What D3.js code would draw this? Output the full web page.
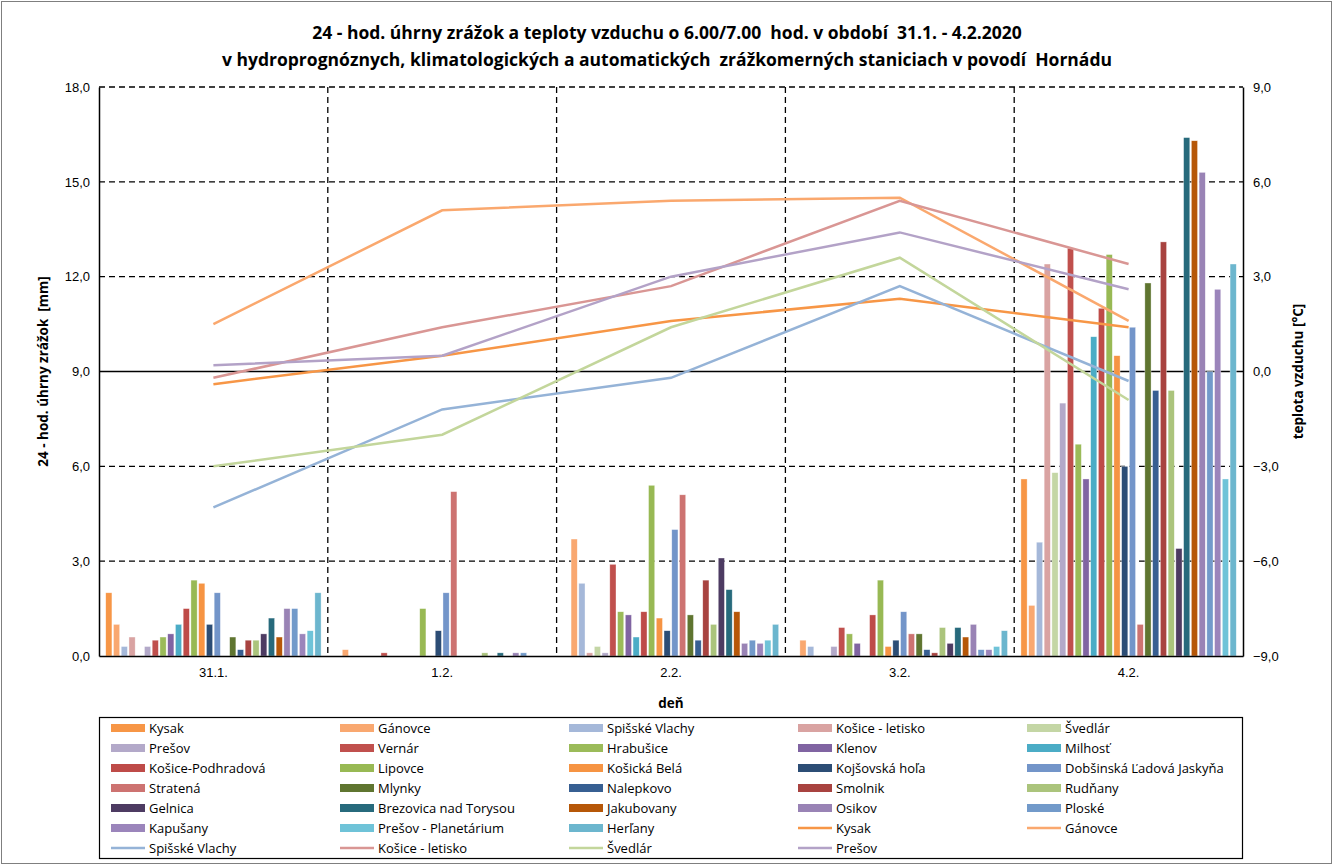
<!DOCTYPE html>
<html>
<head>
<meta charset="utf-8">
<script src="https://cdn.jsdelivr.net/npm/d3@7"></script>
<style>
  body { margin: 0; background: #fff; }
  svg { font-family: "Open Sans", Lato, sans-serif; }
  .tick text { font-size: 13px; fill: #000; }
</style>
</head>
<body>
<svg width="1333" height="865"></svg>
<script>
// days on the x axis
var days = ['31.1.', '1.2.', '2.2.', '3.2.', '4.2.'];

// rain gauges (bars), same order as the legend
var rainStations = ['Kysak', 'Gánovce', 'Spišské Vlachy', 'Košice - letisko', 'Švedlár',
  'Prešov', 'Vernár', 'Hrabušice', 'Klenov', 'Milhosť',
  'Košice-Podhradová', 'Lipovce', 'Košická Belá', 'Kojšovská hoľa', 'Dobšinská Ľadová Jaskyňa',
  'Stratená', 'Mlynky', 'Nalepkovo', 'Smolnik', 'Rudňany',
  'Gelnica', 'Brezovica nad Torysou', 'Jakubovany', 'Osikov', 'Ploské',
  'Kapušany', 'Prešov - Planetárium', 'Herľany'];
var rainColors = ['#F79646', '#F9A870', '#A5B8D9', '#D9A3A2', '#C4D6A5',
  '#B3A9C9', '#C0504D', '#9BBB59', '#8064A2', '#4BACC6',
  '#BE4B48', '#98B954', '#F69443', '#2C4D75', '#7395C9',
  '#CD7371', '#5F7530', '#375F92', '#A84340', '#ABC47C',
  '#4D3B62', '#276A7C', '#B65708', '#9983B5', '#729ACA',
  '#9B85BB', '#6FC3D8', '#6CB6CE'];

// 24-h precipitation [mm] per day, one value per station
var rain311 = [2.0, 1.0, 0.3, 0.6, 0, 0.3, 0.5, 0.6, 0.7, 1.0, 1.5, 2.4, 2.3, 1.0, 2.0, 0, 0.6, 0.2, 0.5, 0.5, 0.7, 1.2, 0.6, 1.5, 1.5, 0.7, 0.8, 2.0];
var rain12  = [0, 0.2, 0, 0, 0, 0, 0.1, 0, 0, 0, 0, 1.5, 0, 0.8, 2.0, 5.2, 0, 0, 0, 0.1, 0, 0.1, 0, 0.1, 0.1, 0, 0, 0];
var rain22  = [0, 3.7, 2.3, 0.1, 0.3, 0.1, 2.9, 1.4, 1.3, 0.6, 1.4, 5.4, 1.2, 0.8, 4.0, 5.1, 1.3, 0.5, 2.4, 1.0, 3.1, 2.1, 1.4, 0.4, 0.5, 0.4, 0.5, 1.0];
var rain32  = [0, 0.5, 0.3, 0, 0, 0.3, 0.9, 0.7, 0.4, 0, 1.3, 2.4, 0.3, 0.5, 1.4, 0.7, 0.7, 0.2, 0.1, 0.9, 0.4, 0.9, 0.6, 1.0, 0.2, 0.2, 0.3, 0.8];
var rain42  = [5.6, 1.6, 3.6, 12.4, 5.8, 8.0, 12.9, 6.7, 5.6, 10.1, 11.0, 12.7, 9.5, 6.0, 10.4, 1.0, 11.8, 8.4, 13.1, 8.4, 3.4, 16.4, 16.3, 15.3, 9.0, 11.6, 5.6, 12.4];
var rainByDay = [rain311, rain12, rain22, rain32, rain42];

// air temperature at 6/7 h [°C]
var tempStations = ['Kysak', 'Gánovce', 'Spišské Vlachy', 'Košice - letisko', 'Švedlár', 'Prešov'];
var tempColors = ['#F79646', '#FAA86E', '#95B3D7', '#D99694', '#C3D69B', '#B3A2C7'];
var tempKysak    = [-0.4, 0.5, 1.6, 2.3, 1.4];
var tempGanovce  = [1.5, 5.1, 5.4, 5.5, 1.6];
var tempSpisske  = [-4.3, -1.2, -0.2, 2.7, -0.3];
var tempLetisko  = [-0.2, 1.4, 2.7, 5.4, 3.4];
var tempSvedlar  = [-3.0, -2.0, 1.4, 3.6, -0.9];
var tempPresov   = [0.2, 0.5, 3.0, 4.4, 2.6];
var tempSeries = [tempKysak, tempGanovce, tempSpisske, tempLetisko, tempSvedlar, tempPresov];

// tick labels
var rainTicks = [0, 3, 6, 9, 12, 15, 18];
var tempTicks = [-9, -6, -3, 0, 3, 6, 9];

var svg = d3.select('svg');
var plot = {left: 99, right: 1243, top: 87, bottom: 656};

var comma = function(v) { return d3.format('.1f')(v).replace('.', ','); };

// scales
var x0 = d3.scaleBand().domain(days).range([plot.left, plot.right])
  .paddingInner(0.052).paddingOuter(0.026);
var x1 = d3.scaleBand().domain(rainStations).range([0, x0.bandwidth()])
  .paddingInner(0.2).paddingOuter(0.1);
var yL = d3.scaleLinear().domain([0, 18]).range([plot.bottom, plot.top]);
var yR = d3.scaleLinear().domain([-9, 9]).range([plot.bottom, plot.top]);
var step = x0.step();

// outer frame
svg.append('rect')
  .attr('x', 1.5).attr('y', 1.5).attr('width', 1330).attr('height', 862)
  .attr('fill', '#fff').attr('stroke', '#7f7f7f');

// title
var title = svg.append('text')
  .attr('text-anchor', 'middle')
  .style('white-space', 'pre')
  .style('font-weight', 'bold').style('font-size', '17.5px');
title.append('tspan').attr('x', 667).attr('y', 39)
  .text('24 - hod. úhrny zrážok a teploty vzduchu o 6.00/7.00  hod. v období  31.1. - 4.2.2020');
title.append('tspan').attr('x', 667).attr('y', 66)
  .text('v hydroprognóznych, klimatologických a automatických  zrážkomerných staniciach v povodí  Hornádu');

// horizontal gridlines (9,0 drawn solid - it is the 0 °C line)
svg.append('g').selectAll('line')
  .data(rainTicks.slice(1))
  .join('line')
  .attr('x1', plot.left).attr('x2', plot.right)
  .attr('y1', function(d) { return yL(d); }).attr('y2', function(d) { return yL(d); })
  .attr('stroke', '#000').attr('stroke-width', 1.3)
  .attr('stroke-dasharray', function(d) { return d === 9 ? null : '6,4'; });

// vertical gridlines between days
svg.append('g').selectAll('line')
  .data(days.slice(1))
  .join('line')
  .attr('x1', function(d) { return x0(d) - (step - x0.bandwidth()) / 2; })
  .attr('x2', function(d) { return x0(d) - (step - x0.bandwidth()) / 2; })
  .attr('y1', plot.top).attr('y2', plot.bottom)
  .attr('stroke', '#000').attr('stroke-width', 1.3).attr('stroke-dasharray', '6,4');

// bars
var groups = svg.append('g').selectAll('g')
  .data(days)
  .join('g')
  .attr('transform', function(d) { return 'translate(' + x0(d) + ',0)'; });

groups.selectAll('rect')
  .data(function(d, i) {
    return rainByDay[i].map(function(v, j) { return {station: rainStations[j], value: v, color: rainColors[j]}; });
  })
  .join('rect')
  .attr('x', function(d) { return x1(d.station); })
  .attr('width', x1.bandwidth())
  .attr('y', function(d) { return yL(d.value); })
  .attr('height', function(d) { return yL(0) - yL(d.value); })
  .attr('fill', function(d) { return d.color; })
  .attr('stroke', function(d) { return d.value > 0 ? 'rgba(255,255,255,0.6)' : 'none'; })
  .attr('stroke-width', 0.6);

// temperature lines
var line = d3.line()
  .x(function(d, i) { return x0(days[i]) + x0.bandwidth() / 2; })
  .y(function(d) { return yR(d); });

svg.append('g').selectAll('path')
  .data(tempSeries)
  .join('path')
  .attr('d', line)
  .attr('fill', 'none')
  .attr('stroke', function(d, i) { return tempColors[i]; })
  .attr('stroke-width', 2.5);

// axes
var axL = svg.append('g')
  .attr('transform', 'translate(' + plot.left + ',0)')
  .call(d3.axisLeft(yL).tickValues(rainTicks).tickFormat(comma).tickSize(0).tickPadding(9));
var axR = svg.append('g')
  .attr('transform', 'translate(' + plot.right + ',0)')
  .call(d3.axisRight(yR).tickValues(tempTicks).tickFormat(comma).tickSize(0).tickPadding(10));
var axB = svg.append('g')
  .attr('transform', 'translate(0,' + plot.bottom + ')')
  .call(d3.axisBottom(x0).tickSize(0).tickPadding(12));
[axL, axR, axB].forEach(function(a) {
  a.select('.domain').attr('stroke', '#000').attr('stroke-width', 1.5);
  a.selectAll('text').attr('fill', '#000');
});

// axis titles
svg.append('text')
  .attr('transform', 'translate(48,' + (plot.top + plot.bottom) / 2 + ') rotate(-90)')
  .attr('text-anchor', 'middle')
  .style('white-space', 'pre')
  .style('font-weight', 'bold').style('font-size', '13.5px')
  .text('24 - hod. úhrny zrážok  [mm]');
svg.append('text')
  .attr('transform', 'translate(1303,' + (plot.top + plot.bottom) / 2 + ') rotate(-90)')
  .attr('text-anchor', 'middle')
  .style('font-weight', 'bold').style('font-size', '13.5px')
  .text('teplota vzduchu [°C]');
svg.append('text')
  .attr('x', (plot.left + plot.right) / 2).attr('y', 708)
  .attr('text-anchor', 'middle')
  .style('font-weight', 'bold').style('font-size', '13.5px')
  .text('deň');

// legend
var legendItems = rainStations.map(function(s, i) { return {name: s, color: rainColors[i], type: 'bar'}; })
  .concat(tempStations.map(function(s, i) { return {name: s, color: tempColors[i], type: 'line'}; }));

svg.append('rect')
  .attr('x', 99.5).attr('y', 717.5).attr('width', 1143).attr('height', 141)
  .attr('fill', 'none').attr('stroke', '#000').attr('stroke-width', 1.2);

var legend = svg.append('g').selectAll('g')
  .data(legendItems)
  .join('g')
  .attr('transform', function(d, i) {
    return 'translate(' + (111 + (i % 5) * 229) + ',' + (728 + Math.floor(i / 5) * 20) + ')';
  });

legend.filter(function(d) { return d.type === 'bar'; })
  .append('rect')
  .attr('x', 0).attr('y', -4).attr('width', 34).attr('height', 8)
  .attr('fill', function(d) { return d.color; });
legend.filter(function(d) { return d.type === 'line'; })
  .append('line')
  .attr('x1', 0).attr('x2', 34).attr('y1', 0).attr('y2', 0)
  .attr('stroke', function(d) { return d.color; }).attr('stroke-width', 2.5);
legend.append('text')
  .attr('x', 38).attr('y', 0).attr('dy', '0.35em')
  .style('font-size', '13px')
  .text(function(d) { return d.name; });
</script>
</body>
</html>
